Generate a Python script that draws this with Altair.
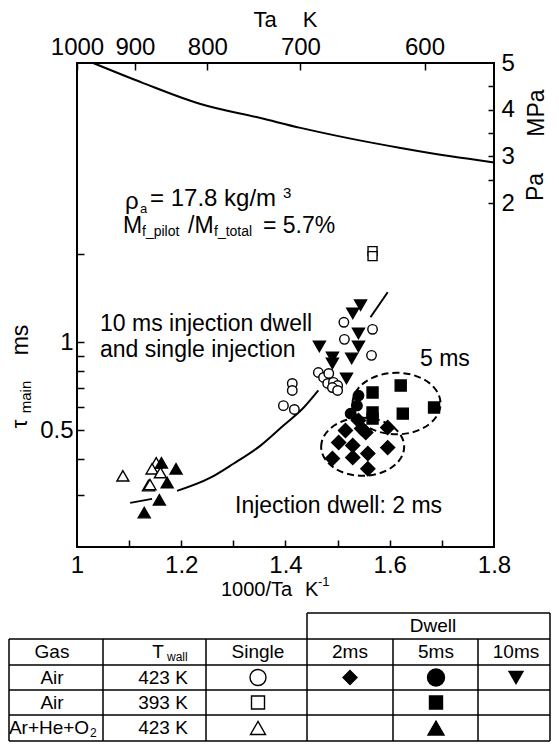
import altair as alt
import pandas as pd

FONT = "Liberation Sans"

# ---------------- values ----------------
# x = 1000/Ta [1/K], tau = tau_main [ms]
single_air423_x = [1.396, 1.417, 1.413, 1.413, 1.512, 1.567, 1.513, 1.565,
                   1.463, 1.473, 1.483, 1.481, 1.492, 1.500, 1.490, 1.500]
single_air423_tau = [0.608, 0.590, 0.724, 0.685, 1.171, 1.108, 1.024, 0.903,
                     0.789, 0.759, 0.783, 0.724, 0.730, 0.712, 0.701, 0.685]

single_air393_x = [1.567, 1.567]
single_air393_tau = [2.05, 1.97]

single_ar423_x = [1.088, 1.152, 1.144, 1.160, 1.137, 1.140]
single_ar423_tau = [0.350, 0.388, 0.370, 0.359, 0.324, 0.327]

dwell2_air423_x = [1.540, 1.554, 1.515, 1.596, 1.502, 1.529, 1.558, 1.596,
                   1.490, 1.529, 1.558, 1.546]
dwell2_air423_tau = [0.541, 0.492, 0.500, 0.512, 0.455, 0.444, 0.417, 0.437,
                     0.401, 0.404, 0.370, 0.508]

dwell5_air423_x = [1.540, 1.537, 1.525]
dwell5_air423_tau = [0.658, 0.608, 0.571]

dwell5_air393_x = [1.567, 1.621, 1.567, 1.567, 1.625, 1.685]
dwell5_air393_tau = [0.674, 0.712, 0.576, 0.549, 0.571, 0.599]

dwell5_ar423_x = [1.162, 1.190, 1.173, 1.158, 1.129]
dwell5_ar423_tau = [0.388, 0.370, 0.332, 0.290, 0.262]

dwell10_air423_x = [1.544, 1.529, 1.540, 1.540, 1.465, 1.527, 1.490, 1.490, 1.517]
dwell10_air423_tau = [1.339, 1.257, 1.073, 0.969, 0.969, 0.882, 0.888, 0.847, 0.753]

# fitted tau curve, drawn in three pieces
fit_seg = ["a", "a", "b", "b", "b", "b", "b", "b", "b", "c", "c"]
fit_x = [1.102, 1.144, 1.192, 1.256, 1.300, 1.352, 1.396, 1.435, 1.463, 1.563, 1.596]
fit_tau = [0.283, 0.292, 0.311, 0.345, 0.385, 0.444, 0.520, 0.599, 0.685, 1.218, 1.483]

# ambient pressure Pa [MPa]
pa_x = [1.031, 1.127, 1.237, 1.352, 1.429, 1.525, 1.621, 1.717, 1.800]
pa_mpa = [5.00, 4.57, 4.12, 3.82, 3.61, 3.38, 3.18, 3.00, 2.87]

# dashed regions (ellipse centres)
region_cat = ["ell2", "ell5"]
region_x = [1.548, 1.613]
region_tau = [0.440, 0.618]

# axes
bottom_labels = [1.0, 1.2, 1.4, 1.6, 1.8]
bottom_ticks = [1.1, 1.2, 1.3, 1.4, 1.5, 1.6, 1.7]
ta_labels_K = [1000, 900, 800, 700, 600]
left_labels = [0.5, 1]
left_ticks = [0.3, 0.4, 0.5, 0.6, 0.7, 0.8, 0.9, 1, 2]
right_labels = [2, 3, 4, 5]
right_ticks = [2, 2.5, 3, 3.5, 4, 4.5]

# table
tbl_head = ["Gas", "T", "Single", "2ms", "5ms", "10ms"]
tbl_gas = ["Air", "Air", "Ar+He+O"]
tbl_twall = ["423 K", "393 K", "423 K"]
tbl_single = ["s_air423", "s_air393", "s_ar423"]
tbl_2ms = ["d2_air423", None, None]
tbl_5ms = ["d5_air423", "d5_air393", "d5_ar423"]
tbl_10ms = ["d10_air423", None, None]

# ---------------- styles / layout ----------------
ELL = "M-1,0A1,0.7,0,1,1,1,0A1,0.7,0,1,1,-1,0Z"
style = pd.DataFrame({
    "cat": ["s_air423", "s_air393", "s_ar423", "d2_air423", "d5_air423",
            "d5_air393", "d5_ar423", "d10_air423", "ell2", "ell5"],
    "shape": ["circle", "square", "triangle-up", "diamond", "circle",
              "square", "triangle-up", "triangle-down", ELL, ELL],
    "fill": ["white", "white", "white", "black", "black",
             "black", "black", "black", "none", "none"],
    "size": [90, 81, 144, 196, 110, 121, 144, 144, 6889, 7744],
    "tsize": [256, 169, 225, 196, 289, 169, 256, 196, 0, 0],
})

W, H = 417, 484
top_pos = [1000.0 / t for t in ta_labels_K]

rows = []
for cat, xs_, ts_ in [
    ("s_air423", single_air423_x, single_air423_tau),
    ("s_air393", single_air393_x, single_air393_tau),
    ("s_ar423", single_ar423_x, single_ar423_tau),
    ("d2_air423", dwell2_air423_x, dwell2_air423_tau),
    ("d5_air423", dwell5_air423_x, dwell5_air423_tau),
    ("d5_air393", dwell5_air393_x, dwell5_air393_tau),
    ("d5_ar423", dwell5_ar423_x, dwell5_ar423_tau),
    ("d10_air423", dwell10_air423_x, dwell10_air423_tau),
]:
    for a, b in zip(xs_, ts_):
        rows.append({"cat": cat, "x": a, "tau": b})
points_df = pd.DataFrame(rows)
fit_df = pd.DataFrame({"seg": fit_seg, "x": fit_x, "tau": fit_tau})
pa_df = pd.DataFrame({"x": pa_x, "p": pa_mpa})
region_df = pd.DataFrame({"cat": region_cat, "x": region_x, "tau": region_tau})

# text placement (pixels relative to plot origin)
col_x = [-25, 86, 181, 273, 359, 439]
row_y = [589, 614.5, 639.5, 665]
ann_left = [
    ("10 ms injection dwell", 23, 261, 23),
    ("and single injection", 23, 287, 23),
    ("5 ms", 343, 296, 23),
    ("Injection dwell: 2 ms", 158, 443, 23),
    ("ρ", 48, 139, 24),
    ("a", 63, 146, 13),
    ("= 17.8 kg/m", 73, 136, 24),
    ("3", 206, 130, 15),
    ("M", 46, 163, 23),
    ("f_pilot", 65, 169, 14),
    ("/M", 111, 163, 23),
    ("f_total", 137, 169, 14),
    ("= 5.7%", 186, 163, 23),
    ("1000/Ta", 144, 527, 20),
    ("K", 228, 527, 20),
    ("-1", 241, 519, 13),
    ("wall", 90, row_y[0] + 5, 12),
    ("2", 13, row_y[3] + 5, 12),
]
ann_center = [("Ta", 188, -43, 22), ("K", 233, -43, 22), ("Dwell", 356, 563, 19)]
for i, h in enumerate(tbl_head):
    ann_center.append((h, col_x[i] if i != 1 else 81, row_y[0], 19))
for r in range(3):
    ann_center.append((tbl_gas[r], col_x[0] if r < 2 else -28, row_y[r + 1], 19))
    ann_center.append((tbl_twall[r], col_x[1], row_y[r + 1], 19))
ann_rot = [("ms", -56, 277, 23), ("main", -51, 334, 15), ("τ", -57, 361, 22),
           ("MPa", 460, 50, 23), ("Pa", 459, 124, 23)]

def tdf(lst):
    return pd.DataFrame(lst, columns=["t", "px", "py", "fs"])

sym_rows = []
for r in range(3):
    for ci, col in [(2, tbl_single), (3, tbl_2ms), (4, tbl_5ms), (5, tbl_10ms)]:
        if col[r]:
            sym_rows.append({"cat": col[r], "px": col_x[ci], "py": row_y[r + 1]})
sym_df = pd.DataFrame(sym_rows)

L, R, T0, T1, B = -68, 473, 550, 576, 678
rule_df = pd.DataFrame([
    (230, R, T0, T0), (L, R, T1, T1), (L, R, 602, 602), (L, R, 627, 627),
    (L, R, 652, 652), (L, R, B, B),
    (L, L, T1, B), (26, 26, T1, B), (129, 129, T1, B), (230, 230, T0, B),
    (316, 316, T1, B), (401, 401, T1, B), (R, R, T0, B),
], columns=["x1", "x2", "y1", "y2"])

# ---------------- chart ----------------
xs = alt.Scale(domain=[1.0, 1.8], nice=False, zero=False)
ts = alt.Scale(type="log", domain=[0.2, 9.0], nice=False)
ps = alt.Scale(domain=[-5.37, 5.0], nice=False, zero=False)
AX = dict(grid=False, domain=False, title=None)
look = alt.LookupData(style, "cat", ["shape", "fill", "size", "tsize"])

pts = alt.Chart(points_df).mark_point(filled=True, stroke="black", strokeWidth=1.4, opacity=1).encode(
    x=alt.X("x:Q", scale=xs, axis=alt.Axis(orient="bottom", values=bottom_labels,
            labelExpr="format(datum.value, '~g')", ticks=False, labelFontSize=24,
            labelPadding=6, labelFlush=False, labelOverlap=False, **AX)),
    y=alt.Y("tau:Q", scale=ts, axis=alt.Axis(orient="left", values=left_labels,
            labelExpr="format(datum.value, '~g')", ticks=False, labelFontSize=24,
            labelPadding=4, labelOverlap=False, **AX)),
    shape=alt.Shape("shape:N", scale=None),
    fill=alt.Fill("fill:N", scale=None),
    size=alt.Size("size:Q", scale=None),
).transform_lookup(lookup="cat", from_=look)

fit = alt.Chart(fit_df).mark_line(color="black", strokeWidth=2, interpolate="monotone").encode(
    x=alt.X("x:Q", scale=xs, axis=alt.Axis(orient="top", offset=-H, values=bottom_ticks,
            labels=False, tickSize=7, **AX)),
    y=alt.Y("tau:Q", scale=ts, axis=alt.Axis(orient="right", offset=-W, values=left_ticks,
            labels=False, tickSize=7, **AX)),
    detail="seg:N",
)

ell = alt.Chart(region_df).mark_point(filled=False, stroke="black", strokeWidth=2,
                                      strokeDash=[7, 4], opacity=1).encode(
    x=alt.X("x:Q", scale=xs, axis=alt.Axis(orient="bottom", offset=-H, values=top_pos,
            labels=False, tickSize=7, **AX)),
    y=alt.Y("tau:Q", scale=ts, axis=None),
    shape=alt.Shape("shape:N", scale=None),
    size=alt.Size("size:Q", scale=None),
).transform_lookup(lookup="cat", from_=look)

pa = alt.Chart(pa_df).mark_line(color="black", strokeWidth=2, interpolate="monotone").encode(
    x=alt.X("x:Q", scale=xs, axis=alt.Axis(orient="top", values=top_pos,
            labelExpr="format(1000/datum.value, '.0f')", ticks=False, labelFontSize=24,
            labelPadding=4, labelFlush=False, labelOverlap=False, **AX)),
    y=alt.Y("p:Q", scale=ps, axis=alt.Axis(orient="right", values=right_labels, format="d",
            ticks=False, labelFontSize=24, labelPadding=7, labelOverlap=False, **AX)),
)

pa_ticks = alt.Chart(pa_df).mark_line(opacity=0).encode(
    x=alt.X("x:Q", scale=xs, axis=None),
    y=alt.Y("p:Q", scale=ps, axis=alt.Axis(orient="left", offset=-W, values=right_ticks,
            labels=False, tickSize=6, **AX)),
)

def text_layer(df, align, angle=0):
    return alt.Chart(df).mark_text(align=align, baseline="middle", font=FONT,
                                   color="black", angle=angle).encode(
        x=alt.X("px:Q", scale=None, axis=None),
        y=alt.Y("py:Q", scale=None, axis=None),
        size=alt.Size("fs:Q", scale=None),
        text="t:N",
    )

txt_left = text_layer(tdf(ann_left), "left")
txt_center = text_layer(tdf(ann_center), "center")
txt_rot = text_layer(tdf(ann_rot), "center", 270)

rules = alt.Chart(rule_df).mark_rule(color="black", strokeWidth=1.5).encode(
    x=alt.X("x1:Q", scale=None, axis=None), x2="x2:Q",
    y=alt.Y("y1:Q", scale=None, axis=None), y2="y2:Q",
)

tsym = alt.Chart(sym_df).mark_point(filled=True, stroke="black", strokeWidth=1.4, opacity=1).encode(
    x=alt.X("px:Q", scale=None, axis=None),
    y=alt.Y("py:Q", scale=None, axis=None),
    shape=alt.Shape("shape:N", scale=None),
    fill=alt.Fill("fill:N", scale=None),
    size=alt.Size("tsize:Q", scale=None),
).transform_lookup(lookup="cat", from_=look)

chart = alt.layer(
    pa_ticks, pa, ell, fit, pts, rules, tsym, txt_left, txt_center, txt_rot
).resolve_scale(
    x="independent", y="independent"
).properties(
    width=W, height=H,
    autosize=alt.AutoSizeParams(type="none"),
    padding={"left": 69, "top": 55, "right": 57, "bottom": 196},
).configure_view(
    stroke="black", strokeWidth=2
).configure_axis(
    labelFont=FONT, labelColor="black", tickColor="black", tickWidth=1.5
)

chart.save("out.html", embed_options={"renderer": "svg", "actions": False})
